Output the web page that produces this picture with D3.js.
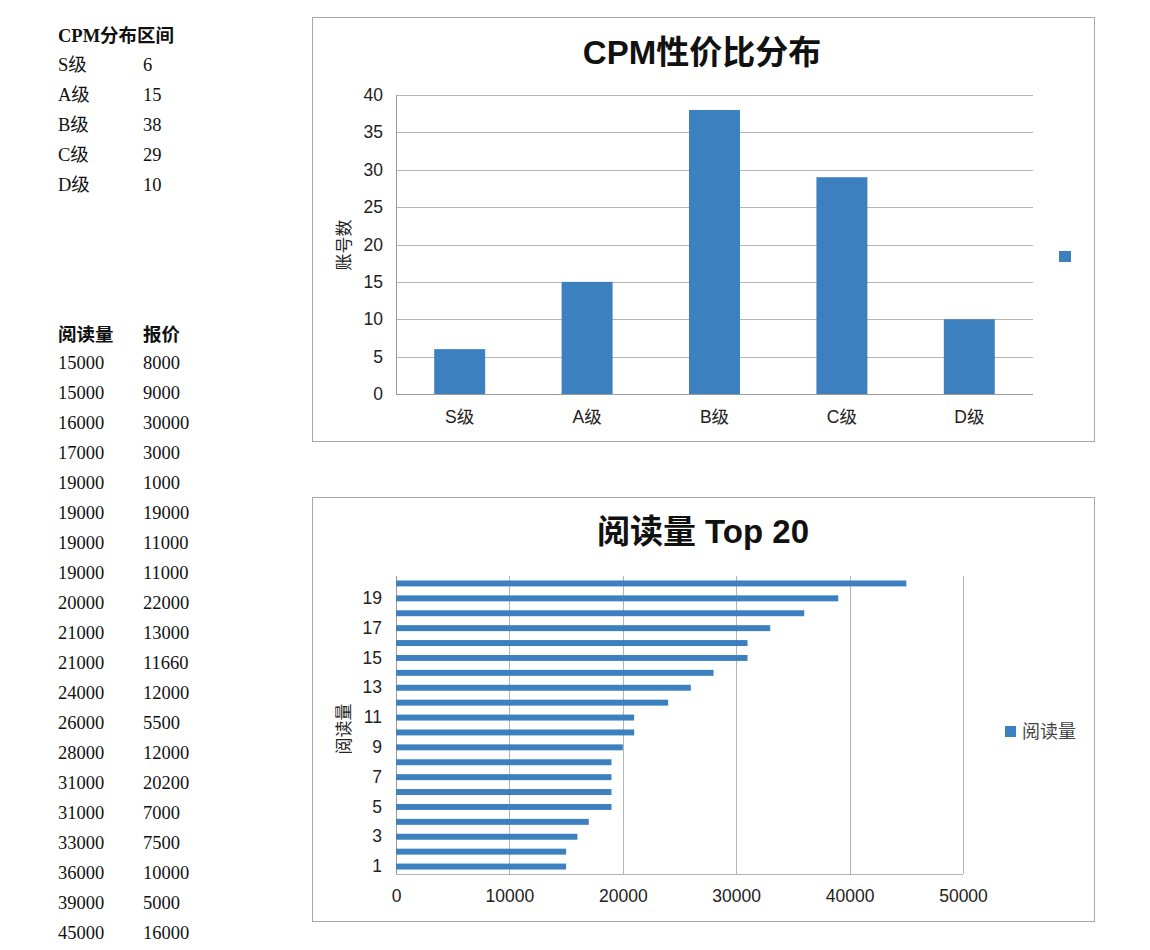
<!DOCTYPE html>
<html>
<head>
<meta charset="utf-8">
<script src="https://cdn.jsdelivr.net/npm/d3@7"></script>
<style>
  body { margin: 0; background: #fff; }
  svg { display: block; }
  .sans { font-family: "Liberation Sans", Arial, "Noto Sans CJK SC", sans-serif; }
  .serif { font-family: "Liberation Serif", "Times New Roman", "Noto Sans CJK SC", serif; }
</style>
</head>
<body>
<svg id="chart" width="1150" height="950"></svg>
<script>
// data
const grades = ['S级', 'A级', 'B级', 'C级', 'D级'];
const gradeCounts = [6, 15, 38, 29, 10];
const reads = [15000, 15000, 16000, 17000, 19000, 19000, 19000, 19000, 20000, 21000,
               21000, 24000, 26000, 28000, 31000, 31000, 33000, 36000, 39000, 45000];
const prices = [8000, 9000, 30000, 3000, 1000, 19000, 11000, 11000, 22000, 13000,
                11660, 12000, 5500, 12000, 20200, 7000, 7500, 10000, 5000, 16000];
const readTicks = [0, 10000, 20000, 30000, 40000, 50000];

const BLUE = '#3c80c0';
const GRID = '#b4b4b4';
const svg = d3.select('#chart');

// left side tables
const tbl = svg.append('g').attr('class', 'serif').attr('fill', '#111').style('font-size', '18.5px');
tbl.append('text').attr('x', 58).attr('y', 42).attr('font-weight', 'bold').text('CPM分布区间');
tbl.selectAll('.g1').data(grades).join('g')
    .attr('transform', (d, i) => `translate(0 ${71 + i * 30})`)
    .each(function (d, i) {
        const g = d3.select(this);
        g.append('text').attr('x', 58).text(d);
        g.append('text').attr('x', 143).text(gradeCounts[i]);
    });

tbl.append('text').attr('x', 58).attr('y', 341).attr('font-weight', 'bold').text('阅读量');
tbl.append('text').attr('x', 143).attr('y', 341).attr('font-weight', 'bold').text('报价');
tbl.selectAll('.g2').data(reads).join('g')
    .attr('transform', (d, i) => `translate(0 ${369 + i * 30})`)
    .each(function (d, i) {
        const g = d3.select(this);
        g.append('text').attr('x', 58).text(d);
        g.append('text').attr('x', 143).text(prices[i]);
    });

// chart 1: vertical bars
(function () {
    const g = svg.append('g').attr('class', 'sans');
    g.append('rect').attr('x', 312.5).attr('y', 17.5).attr('width', 782).attr('height', 424)
        .attr('fill', '#fff').attr('stroke', '#a8a8a8');

    const x = d3.scaleBand().domain(grades).range([396, 1033]).paddingInner(0.6).paddingOuter(0.3);
    const y = d3.scaleLinear().domain([0, 40]).range([394, 95]);

    g.append('g').selectAll('line').data(y.ticks(8)).join('line')
        .attr('x1', 396).attr('x2', 1033)
        .attr('y1', d => Math.round(y(d)) + 0.5).attr('y2', d => Math.round(y(d)) + 0.5)
        .attr('stroke', d => d === 0 ? '#999' : GRID);
    g.append('line').attr('x1', 396.5).attr('x2', 396.5).attr('y1', 95).attr('y2', 394)
        .attr('stroke', '#999');

    g.append('g').selectAll('rect').data(grades).join('rect')
        .attr('x', d => x(d)).attr('width', x.bandwidth())
        .attr('y', (d, i) => y(gradeCounts[i]))
        .attr('height', (d, i) => y(0) - y(gradeCounts[i]))
        .attr('fill', BLUE);

    const yAxis = g.append('g').attr('transform', 'translate(396 0)')
        .call(d3.axisLeft(y).ticks(8).tickSize(0).tickPadding(13));
    yAxis.select('.domain').remove();
    yAxis.selectAll('text').attr('class', 'sans').style('font-size', '17.5px').attr('fill', '#222');

    const xAxis = g.append('g').attr('transform', 'translate(0 394)')
        .call(d3.axisBottom(x).tickSize(0).tickPadding(17));
    xAxis.select('.domain').remove();
    xAxis.selectAll('text').attr('class', 'sans').style('font-size', '17.5px').attr('fill', '#222');

    g.append('text').attr('transform', 'translate(350 245) rotate(-90)')
        .attr('text-anchor', 'middle').style('font-size', '17px').attr('fill', '#222').text('账号数');
    g.append('text').attr('x', 702).attr('y', 64).attr('text-anchor', 'middle')
        .style('font-size', '33px').attr('font-weight', 'bold').attr('fill', '#111').text('CPM性价比分布');
    g.append('rect').attr('x', 1059).attr('y', 251).attr('width', 12).attr('height', 11).attr('fill', BLUE);
})();

// chart 2: horizontal bars
(function () {
    const g = svg.append('g').attr('class', 'sans');
    g.append('rect').attr('x', 312.5).attr('y', 497.5).attr('width', 782).attr('height', 424)
        .attr('fill', '#fff').attr('stroke', '#a8a8a8');

    const idx = reads.map((d, i) => i + 1);
    const x = d3.scaleLinear().domain([0, 50000]).range([396, 963]);
    const y = d3.scaleBand().domain(idx).range([874, 576]).paddingInner(0.6).paddingOuter(0.3);

    g.append('g').selectAll('line').data(readTicks).join('line')
        .attr('x1', d => Math.round(x(d)) + 0.5).attr('x2', d => Math.round(x(d)) + 0.5)
        .attr('y1', 576).attr('y2', 874)
        .attr('stroke', d => d === 0 ? '#999' : GRID);
    g.append('line').attr('x1', 396).attr('x2', 963).attr('y1', 874.5).attr('y2', 874.5)
        .attr('stroke', GRID);

    g.append('g').selectAll('rect').data(idx).join('rect')
        .attr('x', x(0)).attr('y', d => y(d)).attr('height', y.bandwidth())
        .attr('width', (d, i) => x(reads[i]) - x(0))
        .attr('fill', BLUE);

    const yAxis = g.append('g').attr('transform', 'translate(396 0)')
        .call(d3.axisLeft(y).tickValues(idx.filter(d => d % 2 === 1)).tickSize(0).tickPadding(14));
    yAxis.select('.domain').remove();
    yAxis.selectAll('text').attr('class', 'sans').style('font-size', '17.5px').attr('fill', '#222');

    const xAxis = g.append('g').attr('transform', 'translate(0 874)')
        .call(d3.axisBottom(x).tickValues(readTicks).tickFormat(d3.format('d')).tickSize(0).tickPadding(16));
    xAxis.select('.domain').remove();
    xAxis.selectAll('text').attr('class', 'sans').style('font-size', '17.5px').attr('fill', '#222');

    g.append('text').attr('transform', 'translate(350 729) rotate(-90)')
        .attr('text-anchor', 'middle').style('font-size', '17px').attr('fill', '#222').text('阅读量');
    g.append('text').attr('x', 703).attr('y', 543).attr('text-anchor', 'middle')
        .style('font-size', '33px').attr('font-weight', 'bold').attr('fill', '#111').text('阅读量 Top 20');

    g.append('rect').attr('x', 1005).attr('y', 726).attr('width', 11).attr('height', 11).attr('fill', BLUE);
    g.append('text').attr('class', 'serif').attr('x', 1022).attr('y', 738)
        .style('font-size', '18px').attr('fill', '#444').text('阅读量');
})();
</script>
</body>
</html>
